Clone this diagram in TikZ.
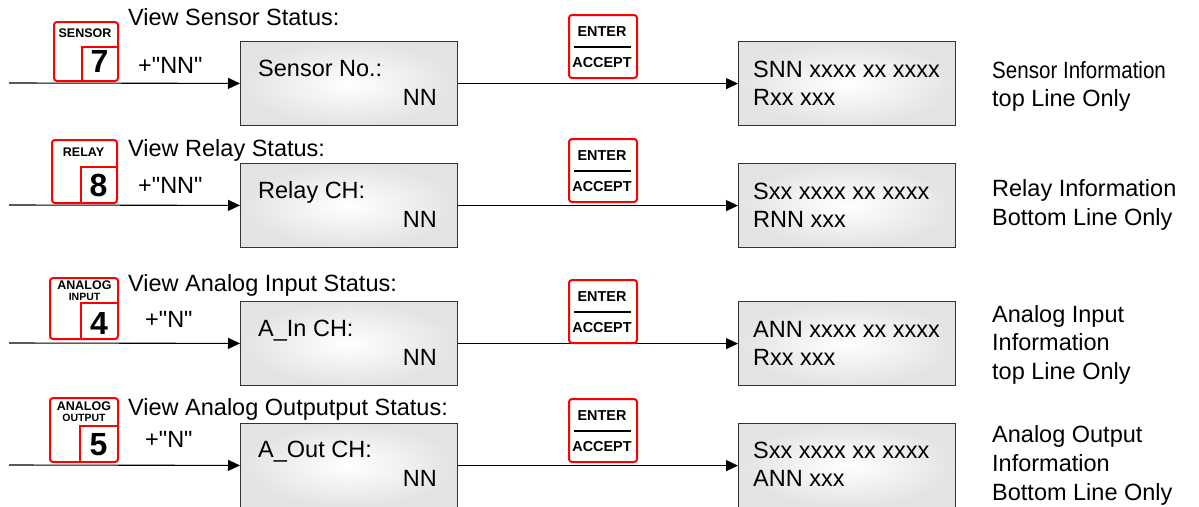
\documentclass[tikz,border=0pt]{standalone}
\usepackage{fontspec}
\setmainfont{Liberation Sans}[Ligatures=TeXOff]
\usetikzlibrary{arrows.meta}
\tikzset{
  lcd/.style={draw=black!80, line width=1.2pt, inner color=white, outer color=black!11,
    minimum width=217pt, minimum height=84pt, inner sep=0pt, anchor=north west},
  keybox/.style={draw=red, line width=2pt, rounded corners=3pt, fill=white, inner sep=0pt, anchor=north west},
  keyline/.style={draw=red, line width=2pt},
  conn/.style={line width=1.1pt, -{Triangle[length=12pt,width=11pt]}},
  txt/.style={font=\fontsize{23.5}{28}\selectfont, inner sep=0pt, anchor=base west},
  txtr/.style={font=\fontsize{23.5}{28}\selectfont, inner sep=0pt, anchor=base east},
  keytxt/.style={font=\fontsize{12.5}{14}\selectfont\bfseries, inner sep=0pt},
  subtxt/.style={font=\fontsize{10.5}{12}\selectfont\bfseries, inner sep=0pt},
  digit/.style={font=\fontsize{32}{36}\selectfont\bfseries, inner sep=0pt},
  entertxt/.style={font=\fontsize{14.4}{16}\selectfont\bfseries, inner sep=0pt},
}
\begin{document}
\begin{tikzpicture}[x=1pt,y=-1pt]
\useasboundingbox (0,0) rectangle (1199,506);

% ---------- boxes ----------
\node[lcd] (b1) at (240,41) {};
\node[lcd] (r1) at (738,41) {};
\node[lcd] (b2) at (240,163) {};
\node[lcd] (r2) at (738,163) {};
\node[lcd] (b3) at (240,301) {};
\node[lcd] (r3) at (738,301) {};
\node[lcd] (b4) at (240,423) {};
\node[lcd] (r4) at (738,423) {};

% ---------- connectors ----------
\coordinate (s1) at (9,83);
\coordinate (s2) at (9,205);
\coordinate (s3) at (9,343);
\coordinate (s4) at (9,465);
\draw[conn] (s1) -- (b1);
\draw[conn] (b1) -- (r1);
\draw[conn] (s2) -- (b2);
\draw[conn] (b2) -- (r2);
\draw[conn] (s3) -- (b3);
\draw[conn] (b3) -- (r3);
\draw[conn] (s4) -- (b4);
\draw[conn] (b4) -- (r4);

% ---------- row 1 ----------
\node[keybox, minimum width=64pt, minimum height=59pt] (k1) at (53,21) {};
\draw[keyline] (82,80) |- (117,47);
\node[keytxt] (k1l) at (85,33) {SENSOR};
\node[digit] (k1d) at (99.5,61) {7};
\node[txt] (t1) at (128,25) {View Sensor Status:};
\node[txt] (p1) at (138,73) {+"NN"};
\node[keybox, minimum width=68pt, minimum height=63pt] (e1) at (568,14) {};
\node[entertxt] (e1a) at (602,32) {ENTER};
\draw[line width=2pt] (574,47) -- (631,47);
\node[entertxt] (e1b) at (602,63) {ACCEPT};
\node[txt] (b1a) at (258,76) {Sensor No.:};
\node[txtr] (b1b) at (437,105) {NN};
\node[txt] (r1a) at (753,77) {SNN xxxx xx xxxx};
\node[txt] (r1b) at (753,105) {Rxx xxx};
\node[txt] (d1a) at (992,78) {\scalebox{0.875}[1]{Sensor Information}};
\node[txt] (d1b) at (992,106) {top Line Only};

% ---------- row 2 ----------
\node[keybox, minimum width=65pt, minimum height=63pt] (k2) at (51,139) {};
\draw[keyline] (81,202) |- (116,167);
\node[keytxt] (k2l) at (83.5,152) {RELAY};
\node[digit] (k2d) at (98.5,185) {8};
\node[txt] (t2) at (128,156) {View Relay Status:};
\node[txt] (p2) at (138,193) {+"NN"};
\node[keybox, minimum width=68pt, minimum height=63pt] (e2) at (568,138) {};
\node[entertxt] (e2a) at (602,156) {ENTER};
\draw[line width=2pt] (574,171) -- (631,171);
\node[entertxt] (e2b) at (602,187) {ACCEPT};
\node[txt] (b2a) at (258,198) {Relay CH:};
\node[txtr] (b2b) at (437,227) {NN};
\node[txt] (r2a) at (753,199) {Sxx xxxx xx xxxx};
\node[txt] (r2b) at (753,227) {RNN xxx};
\node[txt] (d2a) at (992,196) {Relay Information};
\node[txt] (d2b) at (992,225) {Bottom Line Only};

% ---------- row 3 ----------
\node[keybox, minimum width=68pt, minimum height=61pt] (k3) at (49,277) {};
\draw[keyline] (81,338) |- (117,303);
\node[keytxt] (k3l) at (84.5,285) {ANALOG};
\node[subtxt] (k3s) at (84.5,296.5) {INPUT};
\node[digit] (k3d) at (99,323) {4};
\node[txt] (t3) at (128,291) {View Analog Input Status:};
\node[txt] (p3) at (145,327) {+"N"};
\node[keybox, minimum width=68pt, minimum height=63pt] (e3) at (568,279) {};
\node[entertxt] (e3a) at (602,297) {ENTER};
\draw[line width=2pt] (574,312) -- (631,312);
\node[entertxt] (e3b) at (602,328) {ACCEPT};
\node[txt] (b3a) at (258,336) {A\_In CH:};
\node[txtr] (b3b) at (437,365) {NN};
\node[txt] (r3a) at (753,337) {ANN xxxx xx xxxx};
\node[txt] (r3b) at (753,365) {Rxx xxx};
\node[txt] (d3a) at (992,322) {Analog Input};
\node[txt] (d3b) at (992,350.5) {Information};
\node[txt] (d3c) at (992,379) {top Line Only};

% ---------- row 4 ----------
\node[keybox, minimum width=68pt, minimum height=64pt] (k4) at (49,397) {};
\draw[keyline] (80,461) |- (117,426);
\node[keytxt] (k4l) at (84,406) {ANALOG};
\node[subtxt] (k4s) at (84,417.5) {OUTPUT};
\node[digit] (k4d) at (98.5,445) {5};
\node[txt] (t4) at (128,415) {View Analog Outputput Status:};
\node[txt] (p4) at (145,447) {+"N"};
\node[keybox, minimum width=68pt, minimum height=63pt] (e4) at (568,398) {};
\node[entertxt] (e4a) at (602,416) {ENTER};
\draw[line width=2pt] (574,431) -- (631,431);
\node[entertxt] (e4b) at (602,447) {ACCEPT};
\node[txt] (b4a) at (258,457) {A\_Out CH:};
\node[txtr] (b4b) at (437,486) {NN};
\node[txt] (r4a) at (753,458) {Sxx xxxx xx xxxx};
\node[txt] (r4b) at (753,486) {ANN xxx};
\node[txt] (d4a) at (992,442) {Analog Output};
\node[txt] (d4b) at (992,471) {Information};
\node[txt] (d4c) at (992,500) {Bottom Line Only};
\end{tikzpicture}
\end{document}
